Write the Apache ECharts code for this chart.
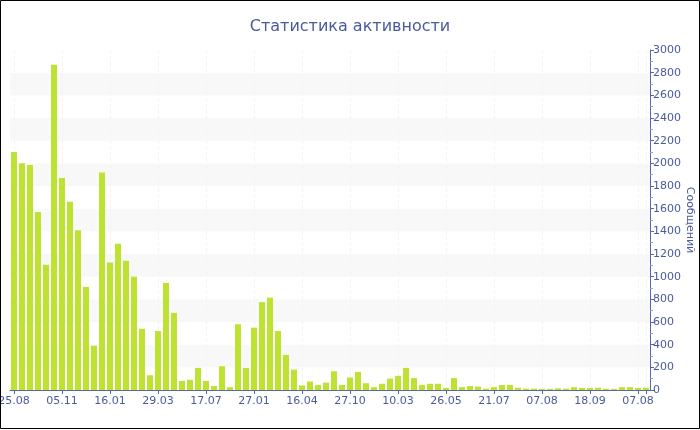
<!DOCTYPE html>
<html>
<head>
<meta charset="utf-8">
<script src="https://cdn.jsdelivr.net/npm/echarts@6/dist/echarts.min.js"></script>
<style>
html,body{margin:0;padding:0;background:#fff;}
#chart{width:700px;height:430px;}
</style>
</head>
<body>
<div id="chart"></div>
<script>
var titleText = 'Статистика активности';
var yAxisName = 'Сообщений';
var categories = [
  '25.08','','','','','',
  '05.11','','','','','',
  '16.01','','','','','',
  '29.03','','','','','',
  '17.07','','','','','',
  '27.01','','','','','',
  '16.04','','','','','',
  '27.10','','','','','',
  '10.03','','','','','',
  '26.05','','','','','',
  '21.07','','','','','',
  '07.08','','','','','',
  '18.09','','','','','',
  '07.08',''
];
var messages = [
  2100, 2000, 1985, 1570, 1105, 2870, 1870, 1660, 1410, 910,
  390, 1920, 1125, 1290, 1140, 1000, 540, 130, 520, 945,
  680, 80, 90, 195, 80, 35, 210, 25, 580, 195,
  550, 775, 815, 520, 310, 180, 40, 75, 45, 65,
  165, 45, 110, 160, 60, 25, 55, 100, 125, 195,
  105, 45, 55, 55, 18, 105, 25, 35, 30, 12,
  25, 45, 45, 20, 12, 12, 10, 10, 15, 12,
  25, 18, 18, 20, 10, 10, 25, 25, 18, 20
];

var textColor = '#4a5a9c';
var axisColor = '#5468ab';
var font = 'DejaVu Sans';

var chart = echarts.init(document.getElementById('chart'), null, {renderer: 'canvas'});
chart.setOption({
  animation: false,
  backgroundColor: '#ffffff',
  title: {
    text: titleText,
    left: 'center',
    top: 14,
    textStyle: {color: textColor, fontFamily: font, fontSize: 16, fontWeight: 'normal'}
  },
  grid: {left: 10, right: 50, top: 50, bottom: 40, containLabel: false, outerBoundsMode: 'none'},
  xAxis: {
    type: 'category',
    data: categories,
    boundaryGap: true,
    axisLine: {show: true, lineStyle: {color: axisColor, width: 1}},
    axisTick: {show: true, interval: 5, alignWithLabel: true, length: 4, lineStyle: {color: axisColor}},
    axisLabel: {interval: 5, color: textColor, fontFamily: font, fontSize: 11, margin: 6, showMinLabel: true, showMaxLabel: true, hideOverlap: false},
    splitLine: {show: true, interval: 5, alignWithLabel: true, lineStyle: {color: '#f4f4f4', type: 'dashed'}}
  },
  yAxis: {
    type: 'value',
    position: 'right',
    min: 0,
    max: 3000,
    interval: 200,
    name: yAxisName,
    nameLocation: 'middle',
    nameRotate: -90,
    nameGap: 34,
    nameMoveOverlap: false,
    nameTextStyle: {color: textColor, fontFamily: font, fontSize: 11},
    axisLine: {show: true, lineStyle: {color: axisColor, width: 1}},
    axisTick: {show: true, length: 4, lineStyle: {color: axisColor}},
    minorTick: {show: true, splitNumber: 2, length: 3, lineStyle: {color: '#9aa6cc'}},
    axisLabel: {color: textColor, fontFamily: font, fontSize: 11, margin: 3, formatter: function (v) { return String(v); }},
    splitLine: {show: false},
    splitArea: {show: true, areaStyle: {color: ['#ffffff', '#f8f8f8']}}
  },
  series: [{
    type: 'bar',
    data: messages,
    barCategoryGap: '25%',
    itemStyle: {color: '#bde232'}
  }],
  graphic: [{
    type: 'rect',
    silent: true,
    z: 100,
    shape: {x: 0.5, y: 0.5, width: 699, height: 428},
    style: {fill: null, stroke: '#000000', lineWidth: 1}
  }]
});
</script>
</body>
</html>
